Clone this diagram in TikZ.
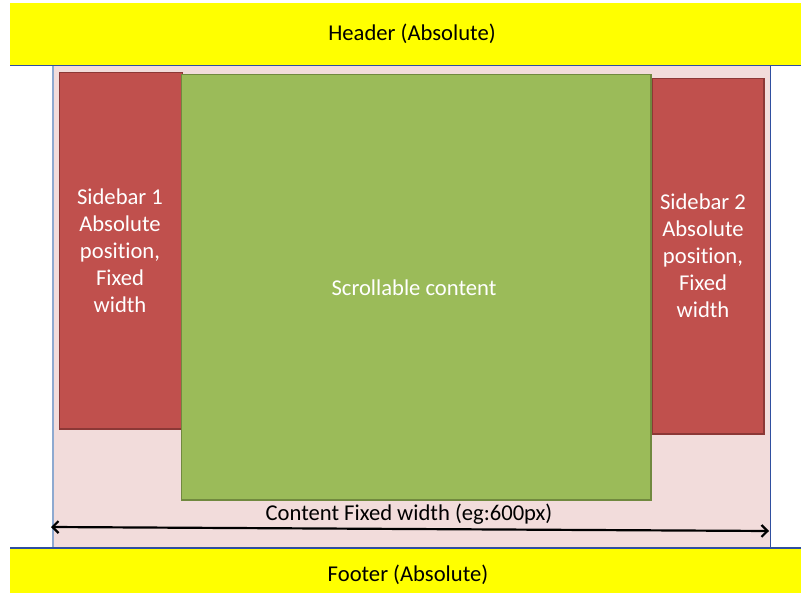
\documentclass[tikz,border=0pt]{standalone}
\usepackage{fontspec}
\setmainfont[Ligatures={NoCommon}]{Carlito}
\usetikzlibrary{arrows.meta}
\definecolor{hdryellow}{HTML}{FFFF00}
\definecolor{pinkbg}{HTML}{F2DCDB}
\definecolor{sidered}{HTML}{C0504D}
\definecolor{sidereddark}{HTML}{8C3836}
\definecolor{contgreen}{HTML}{9BBB59}
\definecolor{contgreendark}{HTML}{71893F}
\definecolor{edgeblue}{HTML}{2F4FA0}
\definecolor{lightblue}{HTML}{8EA9D0}
\tikzset{
  band/.style={fill=hdryellow, draw=none, inner sep=0pt, anchor=north west},
  bandtext/.style={font=\fontsize{22.7}{27}\selectfont, text=black},
  sidebox/.style={fill=sidered, draw=sidereddark, line width=1.5pt, inner sep=0pt, anchor=north west},
  contbox/.style={fill=contgreen, draw=contgreendark, line width=1.5pt, inner sep=0pt, anchor=north west},
  whitetext/.style={font=\fontsize{22.7}{27}\selectfont, text=white, align=center},
  dimarrow/.style={line width=2.2pt, {Straight Barb[length=6pt,width=12pt]}-{Straight Barb[length=6pt,width=12pt]}}
}
\begin{document}
\begin{tikzpicture}[x=1bp,y=-1bp]
\useasboundingbox (0,0) rectangle (801,593);
% container
\node[fill=pinkbg, draw=none, inner sep=0pt, anchor=north west, minimum width=717bp, minimum height=482bp] (wrap) at (53,66) {};
\draw[lightblue, line width=1.3pt] (wrap.north west) -- (wrap.south west);
\draw[edgeblue, line width=1.6pt] (wrap.north east) -- (wrap.south east);
% header / footer
\node[band, minimum width=791bp, minimum height=62bp] (header) at (10,3) {};
\node[bandtext] (htext) at (412,34) {Header (Absolute)};
\draw[edgeblue, line width=1.8pt] (header.south west) -- (header.south east);
\node[band, minimum width=791bp, minimum height=45bp] (footer) at (10,548) {};
\node[bandtext] (ftext) at (408,575) {Footer (Absolute)};
\draw[edgeblue, line width=1.8pt] (footer.north west) -- (footer.north east);
% sidebars
\node[sidebox, minimum width=123bp, minimum height=356bp] (side1) at (59,72) {};
\node[whitetext] (s1text) at (120,251) {Sidebar 1\\Absolute\\position,\\Fixed\\width};
\node[sidebox, minimum width=112bp, minimum height=355bp] (side2) at (651,78) {};
\node[whitetext] (s2text) at (703,256) {Sidebar 2\\Absolute\\position,\\Fixed\\width};
% content
\node[contbox, minimum width=469bp, minimum height=425bp] (content) at (181,74) {};
\node[whitetext] (ctext) at (414,288) {Scrollable content};
% dimension arrow
\coordinate (aleft) at (51,527);
\coordinate (aright) at (769,531);
\draw[dimarrow] (aleft) -- (aright);
\node[bandtext] (dimtext) at (409,514) {Content Fixed width (eg:600px)};
\end{tikzpicture}
\end{document}
